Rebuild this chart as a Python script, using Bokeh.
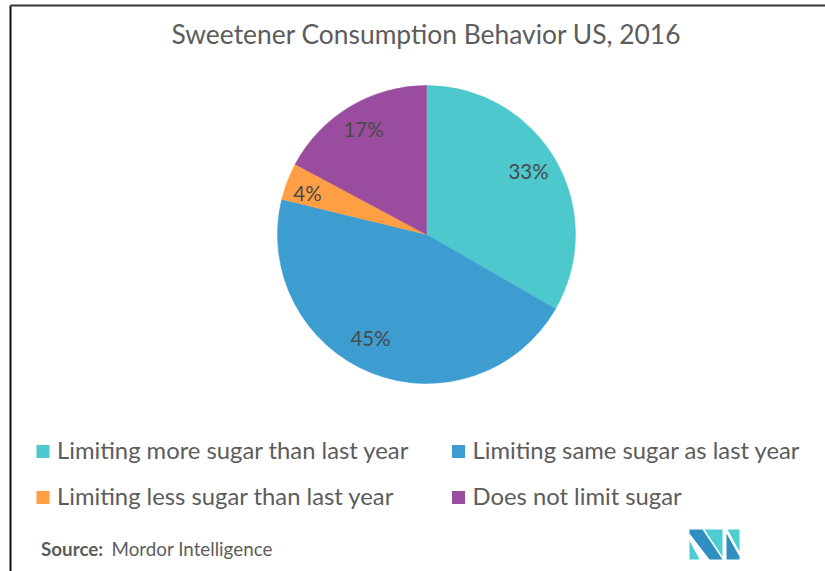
from math import pi
from bokeh.embed import file_html
from bokeh.models import ColumnDataSource, Range1d
from bokeh.plotting import figure
from bokeh.resources import INLINE
from bokeh.core.properties import value

W, H = 825, 571
TITLE = "Sweetener Consumption Behavior US, 2016"
CATEGORIES = ["Limiting more sugar than last year", "Limiting same sugar as last year",
              "Limiting less sugar than last year", "Does not limit sugar"]
SHARES = [33, 45, 4, 17]
COLORS = ["#4dc8cc", "#3d9dd1", "#ff9f45", "#9a4d9e"]
FONT = "Lato"
TEXT = "#5c5c5c"

# One data unit is one pixel; y is measured upward from the bottom edge.
p = figure(width=W, height=H, output_backend="svg", toolbar_location=None,
           x_range=Range1d(0, W), y_range=Range1d(0, H), min_border=0,
           background_fill_color="white", border_fill_color="white", outline_line_color=None)
p.axis.visible = False
p.grid.visible = False

# Pie, clockwise from twelve o'clock
cx, cy, radius = 426, H - 234, 149
total = sum(SHARES)
starts, ends = [], []
cum = 0.0
for s in SHARES:
    a0 = pi / 2 - 2 * pi * cum / total
    cum += s
    a1 = pi / 2 - 2 * pi * cum / total
    starts.append(a1)
    ends.append(a0)

# Label anchors relative to the pie centre
label_dx = [102, -56, -119, -63]
label_dy = [64, -103, 42, 106]
src = ColumnDataSource(dict(start=starts, end=ends, color=COLORS,
                            lx=[cx + d for d in label_dx], ly=[cy + d for d in label_dy],
                            label=[f"{s}%" for s in SHARES]))
p.wedge(x=cx, y=cy, radius=radius, start_angle="start", end_angle="end",
        fill_color="color", line_color="color", line_width=0.5, source=src)
p.text(x="lx", y="ly", text="label", source=src, text_font=value(FONT), text_font_size="20.5px",
       text_color="#4a4a4a", text_align="center", text_baseline="middle")

# Title
p.text(x=[426], y=[H - 33.5], text=[TITLE], text_font=value(FONT), text_font_size="26.4px",
       text_color=TEXT, text_align="center", text_baseline="middle")

# Legend, two rows by two columns
lg_x = [42.5, 458, 42.5, 458]
lg_y = [H - 451, H - 451, H - 497, H - 497]
p.rect(x=lg_x, y=lg_y, width=13, height=13, fill_color=COLORS, line_color=None)
p.text(x=[v + 14 for v in lg_x], y=[v + 2 for v in lg_y], text=CATEGORIES, text_font=value(FONT),
       text_font_size="23.8px", text_color=TEXT, text_align="left", text_baseline="middle")

# Source line
p.text(x=[40.5], y=[H - 548], text=["Source:"], text_font=value(FONT), text_font_style="bold",
       text_font_size="18.8px", text_color=TEXT, text_baseline="middle")
p.text(x=[111], y=[H - 548], text=["Mordor Intelligence"], text_font=value(FONT),
       text_font_size="18.8px", text_color=TEXT, text_baseline="middle")

# Logo mark built from slanted facets
light, dark = "#4dcdd1", "#2e8fc0"
def logo(points, color):
    p.patch([x for x, _ in points], [H - y for _, y in points], fill_color=color, line_color=None)
logo([(689, 529), (702, 529), (722, 559), (709, 559), (689, 533)], dark)
logo([(689, 540), (699, 559), (689, 559)], light)
logo([(704, 529), (722, 529), (722, 556)], light)
logo([(726, 533), (739, 556), (739, 559), (726, 559)], dark)
logo([(727, 529), (739, 529), (739, 551)], light)

# Frame along the left and top
p.line(x=[10, 10], y=[0, H - 5], line_color="#111111", line_width=2)
p.line(x=[10, W], y=[H - 5, H - 5], line_color="#333333", line_width=2)

open("out.html", "w").write(file_html(p, INLINE))
